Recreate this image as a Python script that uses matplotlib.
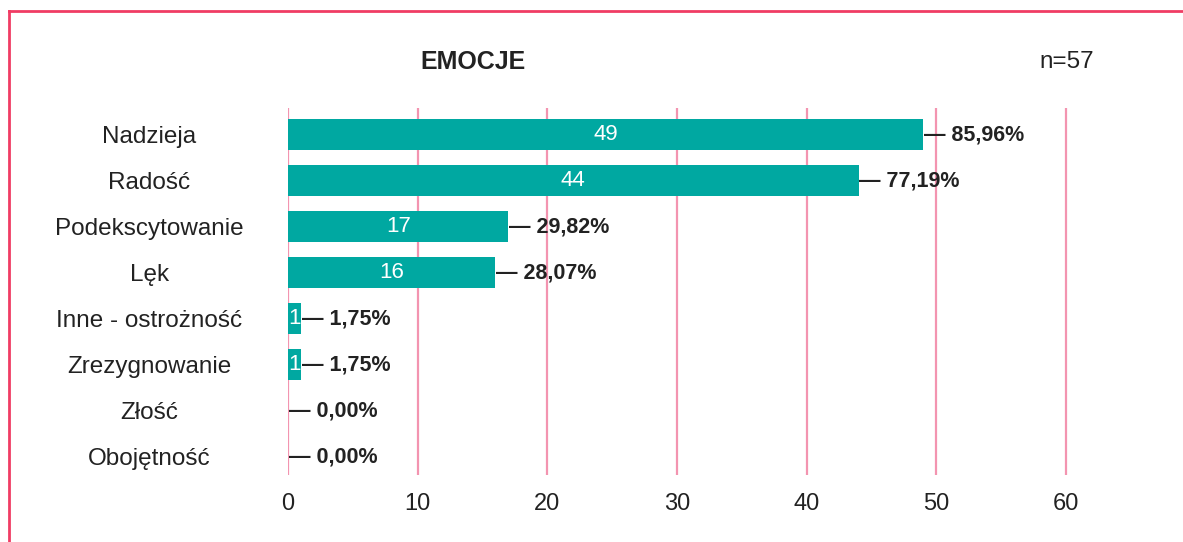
import matplotlib
matplotlib.use("Agg")
import matplotlib.pyplot as plt
from matplotlib.lines import Line2D

plt.rcParams['font.family'] = ['Liberation Sans', 'DejaVu Sans']

categories = ["Nadzieja", "Radość", "Podekscytowanie", "Lęk",
              "Inne - ostrożność", "Zrezygnowanie", "Złość", "Obojętność"]
counts = [49, 44, 17, 16, 1, 1, 0, 0]
percents = ["85,96%", "77,19%", "29,82%", "28,07%", "1,75%", "1,75%", "0,00%", "0,00%"]
xticks = [0, 10, 20, 30, 40, 50, 60]
title = "EMOCJE"
n_label = "n=57"

bar_color = "#00a8a1"
grid_color = "#f394b0"
frame_color = "#f03c64"
text_color = "#222222"

fig = plt.figure(figsize=(11.83, 5.42), dpi=100)
ax = fig.add_axes([288 / 1183, 67 / 542, 881.7 / 1183, 367 / 542])

y = list(range(len(categories)))
ax.set_xlim(0, 68)
ax.set_ylim(7.4, -0.576)

for t in xticks:
    ax.axvline(t, color=grid_color, lw=1.6, zorder=0)

ax.barh(y, counts, height=0.67, color=bar_color, zorder=2)

for i, (c, p) in enumerate(zip(counts, percents)):
    if c > 0:
        ax.text(c / 2, i, str(c), ha="center", va="center", color="white",
                fontsize=16, zorder=3)
    ax.text(c + 0.05, i, "— " + p, ha="left", va="center", color=text_color,
            fontsize=15.5, fontweight="bold", zorder=3)

ax.set_xticks(xticks)
ax.set_xticklabels([str(t) for t in xticks], fontsize=17, color=text_color)
ax.set_yticks(y)
ax.set_yticklabels(categories, fontsize=17.5, color=text_color, ha="center")
ax.tick_params(axis="x", length=0, pad=13)
ax.tick_params(axis="y", length=0, pad=100)
for s in ax.spines.values():
    s.set_visible(False)

fig.text(473 / 1183, 1 - 62 / 542, title, ha="center", va="center",
         fontsize=18, fontweight="bold", color=text_color)
fig.text(1094 / 1183, 1 - 62 / 542, n_label, ha="right", va="center",
         fontsize=17.5, color=text_color)

# red frame
fig.add_artist(Line2D([9 / 1183, 9 / 1183], [0, 1 - 11 / 542], color=frame_color,
                      lw=2, transform=fig.transFigure))
fig.add_artist(Line2D([9 / 1183, 1], [1 - 11 / 542, 1 - 11 / 542], color=frame_color,
                      lw=2, transform=fig.transFigure))

fig.savefig("out.png", dpi=100)
